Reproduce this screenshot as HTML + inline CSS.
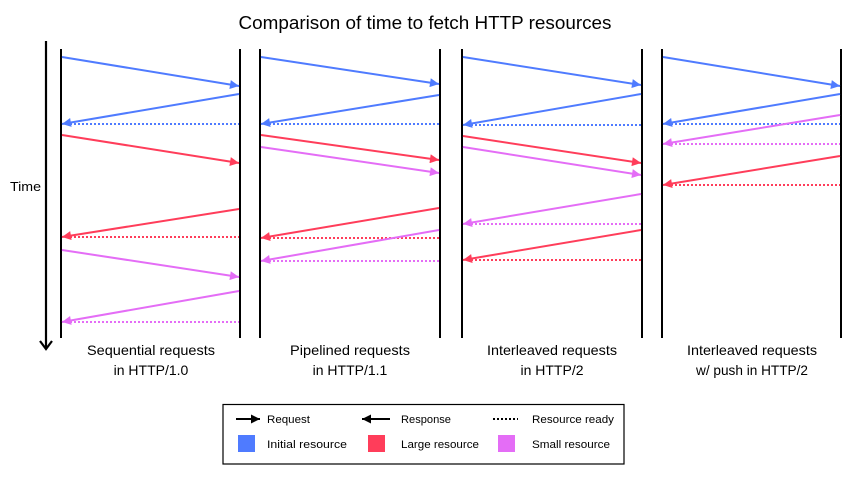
<!DOCTYPE html>
<html>
<head>
<meta charset="utf-8">
<style>
html,body{margin:0;padding:0;background:#fff;}
svg{display:block;}
text{font-family:"Liberation Sans",sans-serif;fill:#000;}
</style>
</head>
<body>
<svg width="850" height="482" viewBox="0 0 850 482" xmlns="http://www.w3.org/2000/svg">
<defs>
<marker id="mb" markerUnits="userSpaceOnUse" viewBox="0 0 10 10" refX="10" refY="5" markerWidth="11" markerHeight="9" orient="auto"><path d="M0,0 L10,5 L0,10 z" fill="#4f7bff"/></marker>
<marker id="mr" markerUnits="userSpaceOnUse" viewBox="0 0 10 10" refX="10" refY="5" markerWidth="11" markerHeight="9" orient="auto"><path d="M0,0 L10,5 L0,10 z" fill="#ff3d5a"/></marker>
<marker id="mm" markerUnits="userSpaceOnUse" viewBox="0 0 10 10" refX="10" refY="5" markerWidth="11" markerHeight="9" orient="auto"><path d="M0,0 L10,5 L0,10 z" fill="#e46df6"/></marker>
<marker id="mk" markerUnits="userSpaceOnUse" viewBox="0 0 10 10" refX="10" refY="5" markerWidth="11" markerHeight="9" orient="auto"><path d="M0,0 L10,5 L0,10 z" fill="#000"/></marker>
</defs>

<text x="425" y="29" font-size="18" text-anchor="middle" textLength="373" lengthAdjust="spacingAndGlyphs">Comparison of time to fetch HTTP resources</text>

<!-- time axis -->
<line x1="46" y1="41" x2="46" y2="349" stroke="#000" stroke-width="2.2"/>
<polyline points="40,341 46,349 52,341" fill="none" stroke="#000" stroke-width="2.2"/>
<text x="10" y="191" font-size="13" textLength="31" lengthAdjust="spacingAndGlyphs">Time</text>

<!-- vertical lines -->
<g stroke="#000" stroke-width="2">
<line x1="61" y1="49" x2="61" y2="338"/><line x1="240" y1="49" x2="240" y2="338"/>
<line x1="260" y1="49" x2="260" y2="338"/><line x1="440" y1="49" x2="440" y2="338"/>
<line x1="462" y1="49" x2="462" y2="338"/><line x1="642" y1="49" x2="642" y2="338"/>
<line x1="662" y1="49" x2="662" y2="338"/><line x1="841" y1="49" x2="841" y2="338"/>
</g>

<g stroke-width="2" fill="none">
<!-- Panel 1 -->
<line x1="62" y1="57" x2="239" y2="86" stroke="#4f7bff" marker-end="url(#mb)"/>
<line x1="239" y1="94" x2="62" y2="124" stroke="#4f7bff" marker-end="url(#mb)"/>
<line x1="70" y1="124" x2="239" y2="124" stroke="#4f7bff" stroke-dasharray="2,2"/>
<line x1="62" y1="135" x2="239" y2="163" stroke="#ff3d5a" marker-end="url(#mr)"/>
<line x1="239" y1="209" x2="62" y2="237" stroke="#ff3d5a" marker-end="url(#mr)"/>
<line x1="70" y1="237" x2="239" y2="237" stroke="#ff3d5a" stroke-dasharray="2,2"/>
<line x1="62" y1="250" x2="239" y2="277" stroke="#e46df6" marker-end="url(#mm)"/>
<line x1="239" y1="291" x2="62" y2="322" stroke="#e46df6" marker-end="url(#mm)"/>
<line x1="70" y1="322" x2="239" y2="322" stroke="#e46df6" stroke-dasharray="2,2"/>

<!-- Panel 2 -->
<line x1="261" y1="57" x2="439" y2="84" stroke="#4f7bff" marker-end="url(#mb)"/>
<line x1="439" y1="95" x2="261" y2="124" stroke="#4f7bff" marker-end="url(#mb)"/>
<line x1="269" y1="124" x2="439" y2="124" stroke="#4f7bff" stroke-dasharray="2,2"/>
<line x1="261" y1="135" x2="439" y2="160" stroke="#ff3d5a" marker-end="url(#mr)"/>
<line x1="261" y1="147" x2="439" y2="173" stroke="#e46df6" marker-end="url(#mm)"/>
<line x1="439" y1="208" x2="261" y2="238" stroke="#ff3d5a" marker-end="url(#mr)"/>
<line x1="269" y1="238" x2="439" y2="238" stroke="#ff3d5a" stroke-dasharray="2,2"/>
<line x1="439" y1="230" x2="261" y2="261" stroke="#e46df6" marker-end="url(#mm)"/>
<line x1="269" y1="261" x2="439" y2="261" stroke="#e46df6" stroke-dasharray="2,2"/>

<!-- Panel 3 -->
<line x1="463" y1="57" x2="641" y2="85" stroke="#4f7bff" marker-end="url(#mb)"/>
<line x1="641" y1="94" x2="463" y2="125" stroke="#4f7bff" marker-end="url(#mb)"/>
<line x1="471" y1="125" x2="641" y2="125" stroke="#4f7bff" stroke-dasharray="2,2"/>
<line x1="463" y1="136" x2="641" y2="163" stroke="#ff3d5a" marker-end="url(#mr)"/>
<line x1="463" y1="147" x2="641" y2="175" stroke="#e46df6" marker-end="url(#mm)"/>
<line x1="641" y1="194" x2="463" y2="224" stroke="#e46df6" marker-end="url(#mm)"/>
<line x1="471" y1="224" x2="641" y2="224" stroke="#e46df6" stroke-dasharray="2,2"/>
<line x1="641" y1="230" x2="463" y2="260" stroke="#ff3d5a" marker-end="url(#mr)"/>
<line x1="471" y1="260" x2="641" y2="260" stroke="#ff3d5a" stroke-dasharray="2,2"/>

<!-- Panel 4 -->
<line x1="663" y1="57" x2="840" y2="86" stroke="#4f7bff" marker-end="url(#mb)"/>
<line x1="840" y1="94" x2="663" y2="124" stroke="#4f7bff" marker-end="url(#mb)"/>
<line x1="671" y1="124" x2="840" y2="124" stroke="#4f7bff" stroke-dasharray="2,2"/>
<line x1="840" y1="115" x2="663" y2="144" stroke="#e46df6" marker-end="url(#mm)"/>
<line x1="671" y1="144" x2="840" y2="144" stroke="#e46df6" stroke-dasharray="2,2"/>
<line x1="840" y1="156" x2="663" y2="185" stroke="#ff3d5a" marker-end="url(#mr)"/>
<line x1="671" y1="185" x2="840" y2="185" stroke="#ff3d5a" stroke-dasharray="2,2"/>
</g>

<!-- panel labels -->
<g font-size="14" text-anchor="middle">
<text x="151" y="355" textLength="128" lengthAdjust="spacingAndGlyphs">Sequential requests</text>
<text x="151" y="375">in HTTP/1.0</text>
<text x="350" y="355" textLength="120" lengthAdjust="spacingAndGlyphs">Pipelined requests</text>
<text x="350" y="375">in HTTP/1.1</text>
<text x="552" y="355" textLength="130" lengthAdjust="spacingAndGlyphs">Interleaved requests</text>
<text x="552" y="375">in HTTP/2</text>
<text x="752" y="355" textLength="130" lengthAdjust="spacingAndGlyphs">Interleaved requests</text>
<text x="752" y="375" textLength="112" lengthAdjust="spacingAndGlyphs">w/ push in HTTP/2</text>
</g>

<!-- legend -->
<rect x="223" y="404.5" width="401" height="59.5" fill="#fff" stroke="#000" stroke-width="1.2"/>
<line x1="236" y1="419" x2="260" y2="419" stroke="#000" stroke-width="2" marker-end="url(#mk)"/>
<line x1="390" y1="419" x2="362" y2="419" stroke="#000" stroke-width="2" marker-end="url(#mk)"/>
<line x1="493" y1="419" x2="518" y2="419" stroke="#000" stroke-width="2" stroke-dasharray="2,2"/>
<rect x="238" y="435" width="17" height="17" fill="#4f7bff"/>
<rect x="368" y="435" width="17" height="17" fill="#ff3d5a"/>
<rect x="498" y="435" width="17" height="17" fill="#e46df6"/>
<g font-size="11">
<text x="267" y="423" textLength="43" lengthAdjust="spacingAndGlyphs">Request</text>
<text x="401" y="423" textLength="50" lengthAdjust="spacingAndGlyphs">Response</text>
<text x="532" y="423" textLength="82" lengthAdjust="spacingAndGlyphs">Resource ready</text>
<text x="267" y="448" textLength="80" lengthAdjust="spacingAndGlyphs">Initial resource</text>
<text x="401" y="448" textLength="78" lengthAdjust="spacingAndGlyphs">Large resource</text>
<text x="532" y="448" textLength="78" lengthAdjust="spacingAndGlyphs">Small resource</text>
</g>
</svg>
</body>
</html>
